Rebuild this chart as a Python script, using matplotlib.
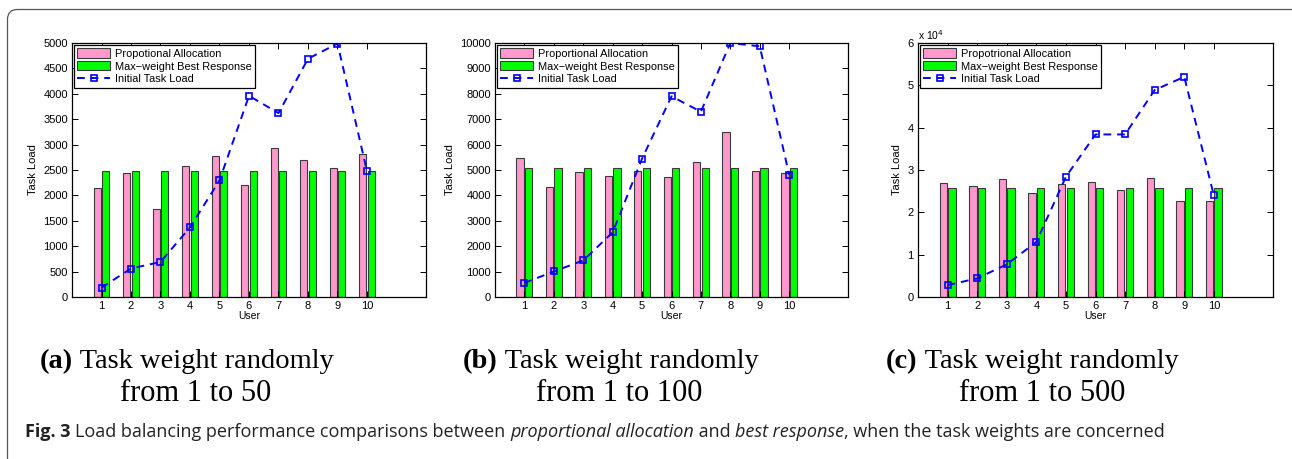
import matplotlib
matplotlib.use("Agg")
import matplotlib.pyplot as plt
import numpy as np
from matplotlib.patches import FancyBboxPatch
from matplotlib.ticker import FuncFormatter

users = np.arange(1, 11)

# (a) task weight 1..50
prop_a = [2140, 2435, 1725, 2580, 2770, 2205, 2930, 2690, 2545, 2820]
best_a = [2487] * 10
init_a = [185, 560, 690, 1370, 2295, 3960, 3620, 4690, 4990, 2475]

# (b) task weight 1..100
prop_b = [5475, 4325, 4910, 4775, 4945, 4710, 5315, 6500, 4960, 4880]
best_b = [5080] * 10
init_b = [555, 1005, 1440, 2545, 5450, 7900, 7295, 10000, 9870, 4815]

# (c) task weight 1..500
prop_c = [27000, 26200, 27900, 24500, 26800, 27100, 25200, 28100, 22700, 22700]
best_c = [25800] * 10
init_c = [2800, 4400, 7700, 13000, 28400, 38400, 38400, 48900, 52000, 24000]

legend_a = ["Propotional Allocation", "Max\u2212weight Best Response", "Initial Task Load"]
legend_b = ["Proportional Allocation", "Max\u2212weight Best Response", "Initial Task Load"]
legend_c = ["Propotrional Allocation", "Max\u2212weight Best Response", "Initial Task Load"]

W, H = 1292, 459
fig = plt.figure(figsize=(W / 100, H / 100), dpi=100)
plt.rcParams["font.family"] = "Liberation Sans"


def px_axes(x0, y0, x1, y1):
    return fig.add_axes([x0 / W, 1 - y1 / H, (x1 - x0) / W, (y1 - y0) / H])


def panel(ax, prop, best, init, labels, ymax, ystep, scale=1.0):
    w = 0.25
    b1 = ax.bar(users - 0.145, prop, w, color="#ff99cc", edgecolor="#3a3a3a", linewidth=0.8)
    b2 = ax.bar(users + 0.145, best, w, color="#00ff00", edgecolor="#3a3a3a", linewidth=0.8)
    ln, = ax.plot(users, init, "--", color="#0000ff", lw=1.4, marker="s", ms=4.5,
                  mfc="none", mec="#0000ff", mew=1.2, dashes=(4, 3))
    ax.set_xlim(0, 12)
    ax.set_ylim(0, ymax)
    ax.set_xticks(users)
    ax.set_yticks(np.arange(0, ymax + 1, ystep))
    if scale != 1.0:
        ax.yaxis.set_major_formatter(FuncFormatter(lambda v, p: f"{v / scale:g}"))
    ax.tick_params(direction="in", length=4, width=0.7, labelsize=8, top=True, right=True, pad=3)
    for s in ax.spines.values():
        s.set_linewidth(0.9)
    ax.set_xlabel("User", fontsize=7.5, labelpad=0)
    ax.set_ylabel("Task Load", fontsize=8, labelpad=4)
    leg = ax.legend([b1, b2, ln], labels, loc="upper left", fontsize=7.9, fancybox=False,
                    edgecolor="black", framealpha=1, handlelength=3.0, handleheight=0.9,
                    borderaxespad=0.2, borderpad=0.3, labelspacing=0.22, handletextpad=0.4)
    leg.get_frame().set_linewidth(0.9)


ax_a = px_axes(72, 43, 426, 297)
panel(ax_a, prop_a, best_a, init_a, legend_a, 5000, 500)
ax_b = px_axes(495, 43, 848, 297)
panel(ax_b, prop_b, best_b, init_b, legend_b, 10000, 1000)
ax_c = px_axes(918, 43, 1273, 297)
panel(ax_c, prop_c, best_c, init_c, legend_c, 60000, 10000, scale=1e4)
fig.text(918 / W, 1 - 40 / H, "x 10$^4$", fontsize=7.5, ha="left", va="baseline")

fig.canvas.draw()
renderer = fig.canvas.get_renderer()


def runs(x, y, pieces, size, family, color="black"):
    # place text pieces one after another on one line
    for s, wt, st in pieces:
        t = fig.text(x / W, 1 - y / H, s, fontsize=size, family=family, weight=wt,
                     style=st, ha="left", va="baseline", color=color)
        x += t.get_window_extent(renderer).width


# sub-captions
serif = "Liberation Serif"
caps = [("(a)", "from 1 to 50", 40, 196),
        ("(b)", "from 1 to 100", 463, 619),
        ("(c)", "from 1 to 500", 886, 1042)]
for tag, l2, x1, cx2 in caps:
    runs(x1, 368, [(tag, "bold", "normal"), (" Task weight randomly", "normal", "normal")],
         20.5, serif)
    fig.text(cx2 / W, 1 - 401 / H, l2, fontsize=22, family=serif, ha="center", va="baseline")

# figure caption
runs(25, 437, [("Fig. 3 ", "bold", "normal"),
               ("Load balancing performance comparisons between ", "normal", "normal"),
               ("proportional allocation", "normal", "italic"),
               (" and ", "normal", "normal"),
               ("best response", "normal", "italic"),
               (", when the task weights are concerned", "normal", "normal")],
     13, "Open Sans", color="#222222")

# outer frame: left and top edges with rounded corners
frame = FancyBboxPatch((7.5, -20), W + 40, H - 9.5 + 20,
                       boxstyle="round,pad=0,rounding_size=10", transform=None,
                       fill=False, edgecolor="#555555", linewidth=0.9, clip_on=False)
fig.patches.append(frame)

fig.savefig("out.png", dpi=100)
